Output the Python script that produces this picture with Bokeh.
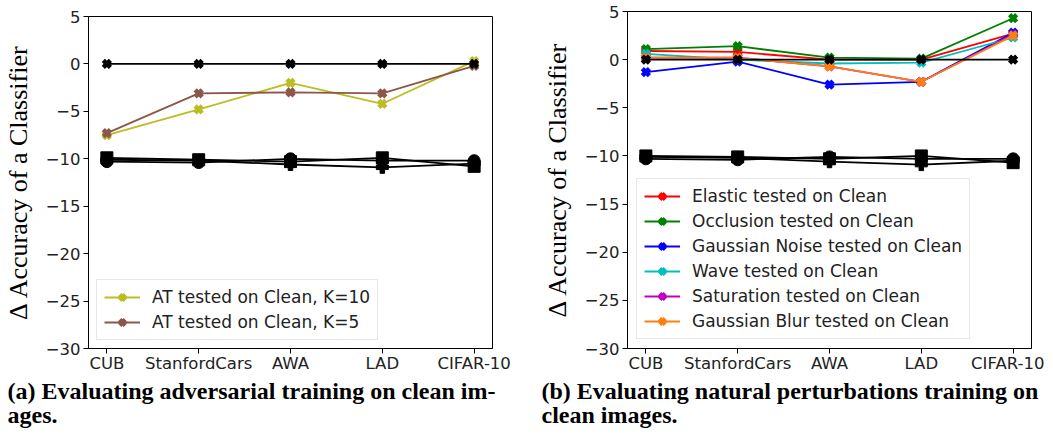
import numpy as np
from bokeh.plotting import figure
from bokeh.models import Range1d, FixedTicker, Legend, LegendItem, Title
from bokeh.layouts import row, column
from bokeh.embed import file_html
from bokeh.resources import INLINE

# ---------------- data ----------------
categories = ["CUB", "StanfordCars", "AWA", "LAD", "CIFAR-10"]
y_ticks = [5, 0, -5, -10, -15, -20, -25, -30]

# (a) adversarial training
baseline_a = [0, 0, 0, 0, 0]
at_k10 = [-7.5, -4.8, -2.0, -4.2, 0.3]
at_k5 = [-7.3, -3.1, -3.0, -3.1, -0.2]
ref_square_a = [-9.9, -10.1, -10.3, -9.9, -10.8]
ref_circle_a = [-10.3, -10.4, -10.0, -10.2, -10.2]
ref_plus_a = [-10.1, -10.2, -10.6, -10.9, -10.5]

# (b) natural perturbations
baseline_b = [0, 0, 0, 0, 0]
elastic = [0.9, 0.8, 0.0, 0.0, 2.7]
occlusion = [1.1, 1.4, 0.2, 0.1, 4.3]
gauss_noise = [-1.3, -0.2, -2.6, -2.3, 2.8]
wave = [0.6, 0.0, -0.4, -0.3, 2.3]
saturation = [0.2, 0.2, -0.7, -2.3, 2.6]
gauss_blur = [0.2, 0.2, -0.7, -2.3, 2.5]
ref_square_b = [-10.0, -10.1, -10.3, -10.0, -10.7]
ref_circle_b = [-10.3, -10.4, -10.1, -10.3, -10.3]
ref_plus_b = [-10.1, -10.2, -10.6, -10.9, -10.5]

labels_a = ["AT tested on Clean, K=10", "AT tested on Clean, K=5"]
labels_b = ["Elastic tested on Clean", "Occlusion tested on Clean",
            "Gaussian Noise tested on Clean", "Wave tested on Clean",
            "Saturation tested on Clean", "Gaussian Blur tested on Clean"]
caption_a = ["(a) Evaluating adversarial training on clean im-", "ages."]
caption_b = ["(b) Evaluating natural perturbations training on", "clean images."]

x_idx = list(range(len(categories)))
TICK_FONT = "DejaVu Sans"


def minus(v):
    return str(v).replace("-", "\u2212")


def make_fig(fw, fh, left, right, top, bottom):
    p = figure(frame_width=fw, frame_height=fh, output_backend="svg",
               toolbar_location=None, x_range=Range1d(-0.2, 4.2),
               y_range=Range1d(-30, 5),
               min_border_left=left, min_border_right=right,
               min_border_top=top, min_border_bottom=bottom)
    p.xgrid.visible = False
    p.ygrid.visible = False
    p.outline_line_color = "black"
    p.outline_line_width = 1
    p.background_fill_color = "white"
    p.border_fill_color = "white"
    for ax in (p.xaxis[0], p.yaxis[0]):
        ax.axis_line_color = "black"
        ax.major_tick_line_color = "black"
        ax.major_tick_out = 5
        ax.major_tick_in = 0
        ax.minor_tick_line_color = None
        ax.major_label_text_font = TICK_FONT
        ax.major_label_text_font_size = "16.5px"
        ax.major_label_text_color = "#222222"
        ax.major_label_standoff = 3
    p.xaxis.major_label_standoff = 0
    p.xaxis.ticker = FixedTicker(ticks=x_idx)
    p.xaxis.major_label_overrides = {i: c for i, c in enumerate(categories)}
    p.yaxis.ticker = FixedTicker(ticks=y_ticks)
    p.yaxis.major_label_overrides = {t: minus(t) for t in y_ticks}
    p.yaxis.axis_label = "\u0394 Accuracy of a Classifier"
    p.yaxis.axis_label_text_font = "Liberation Serif"
    p.yaxis.axis_label_text_font_size = "26px"
    p.yaxis.axis_label_text_font_style = "normal"
    p.yaxis.axis_label_text_color = "black"
    p.yaxis.axis_label_standoff = 10
    return p


def series(p, ys, color, marker="X", lw=1.8):
    ln = p.line(x_idx, ys, line_color=color, line_width=lw)
    if marker == "X":
        sc = p.scatter(x_idx, ys, marker="x", size=10, line_width=4.5,
                       line_color=color)
    else:
        sc = p.scatter(x_idx, ys, marker=marker, size=12,
                       fill_color=color, line_color=color)
    return [ln, sc]


def black_refs(p, sq, ci, pl):
    series(p, sq, "black", "square")
    series(p, ci, "black", "circle")
    series(p, pl, "black", "plus")


def add_caption(p, lines, offset):
    p.add_layout(Title(text="\n".join(lines), align="left", offset=offset,
                       text_font="Liberation Serif", text_font_size="24px",
                       text_font_style="bold", text_color="black",
                       text_line_height=0.95, standoff=0), "below")


def legend(p, items, margin):
    lg = Legend(items=items, location="bottom_left", margin=margin,
                label_text_font=TICK_FONT, label_text_font_size="17px",
                label_text_color="#222222",
                glyph_width=36, glyph_height=20, label_height=20,
                spacing=5, padding=7, label_standoff=12,
                border_line_color="#d0d0d0", border_line_width=1,
                background_fill_alpha=0.85)
    p.add_layout(lg)


# ---------------- (a) ----------------
pa = make_fig(404, 332, 81, 35, 16, 70)
r10 = series(pa, at_k10, "#bcbd22")
r5 = series(pa, at_k5, "#8c564b")
black_refs(pa, ref_square_a, ref_circle_a, ref_plus_a)
series(pa, baseline_a, "black")
legend(pa, [LegendItem(label=labels_a[0], renderers=r10),
            LegendItem(label=labels_a[1], renderers=r5)], 8)
add_caption(pa, caption_a, -81)

# ---------------- (b) ----------------
pb = make_fig(404, 337, 100, 13, 11, 70)
colors_b = ["#ff0000", "#008000", "#0000ff", "#00bfbf", "#bf00bf", "#ff7f0e"]
data_b = [elastic, occlusion, gauss_noise, wave, saturation, gauss_blur]
items_b = []
for lab, col, ys in zip(labels_b, colors_b, data_b):
    rr = series(pb, ys, col)
    items_b.append(LegendItem(label=lab, renderers=rr))
black_refs(pb, ref_square_b, ref_circle_b, ref_plus_b)
series(pb, baseline_b, "black")
legend(pb, items_b, 9)
add_caption(pb, caption_b, -86)

layout = row(column(pa), column(pb), spacing=0)
open("out.html", "w").write(file_html(layout, INLINE))
